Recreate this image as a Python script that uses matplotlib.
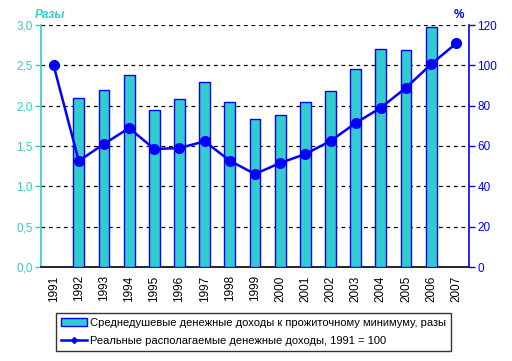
import matplotlib
matplotlib.use("Agg")
import matplotlib.pyplot as plt
import numpy as np

years = [str(y) for y in range(1991, 2008)]
ratio = [np.nan, 2.1, 2.2, 2.38, 1.95, 2.08, 2.29, 2.04, 1.83, 1.88, 2.04, 2.18, 2.45, 2.7, 2.69, 2.97, np.nan]
real_income = [100, 52.6, 61, 68.9, 58.5, 59, 62.3, 52.7, 46.1, 51.6, 56, 62.5, 71.4, 79, 88.9, 100.6, 111]
left_ticks = ["0,0", "0,5", "1,0", "1,5", "2,0", "2,5", "3,0"]
right_ticks = ["0", "20", "40", "60", "80", "100", "120"]

TEAL = "#33CCCC"
BLUE = "#0000FF"
plt.rcParams['font.family'] = ['Liberation Sans', 'DejaVu Sans']
fs = 8.5

fig = plt.figure(figsize=(5.12, 3.61), dpi=100)
ax = fig.add_axes([41/512, 1-267/361, 428/512, 242/361])
x = np.arange(len(years))
bars = ax.bar(x, ratio, width=0.43, color=TEAL, edgecolor=BLUE, linewidth=1.0, zorder=3,
              label="Среднедушевые денежные доходы к прожиточному минимуму, разы")
ax.set_xlim(-0.5, len(years)-0.5)
ax.set_ylim(0, 3.0)
ax.set_yticks(np.arange(0, 3.01, 0.5))
ax.set_yticklabels(left_ticks, color=TEAL, fontsize=fs)
ax.set_xticks(x)
ax.set_xticklabels(years, rotation=90, fontsize=fs)
ax.tick_params(axis='x', length=0, pad=6)
ax.tick_params(axis='y', colors=TEAL, length=4, width=1, pad=2)
for yv in np.arange(0.5, 3.01, 0.5):
    ax.axhline(yv, color='black', linestyle=(0, (3, 3)), linewidth=0.9, zorder=1)
ax.spines['top'].set_visible(False)
ax.spines['right'].set_visible(False)
ax.spines['left'].set_color(TEAL)
ax.spines['left'].set_linewidth(1.2)
ax.spines['bottom'].set_color('black')
ax.spines['bottom'].set_linewidth(1.2)

ax2 = ax.twinx()
line, = ax2.plot(x, real_income, color=BLUE, linewidth=1.8, marker='o', markersize=7, zorder=4,
                 label="Реальные располагаемые денежные доходы, 1991 = 100")
ax2.set_ylim(0, 120)
ax2.set_yticks(np.arange(0, 121, 20))
ax2.set_yticklabels(right_ticks, color=BLUE, fontsize=fs)
ax2.tick_params(axis='y', colors=BLUE, length=4, width=1, pad=2)
for s in ['top', 'left', 'bottom']:
    ax2.spines[s].set_visible(False)
ax2.spines['right'].set_color(BLUE)
ax2.spines['right'].set_linewidth(1.2)

fig.text(35/512, 1-15/361, "Разы", color=TEAL, fontsize=8.5, fontstyle='italic', fontweight='bold', va='center', ha='left')
fig.text(459/512, 1-15/361, "%", color=BLUE, fontsize=8.5, fontweight='bold', va='center', ha='center')

leg_line = plt.Line2D([], [], color=BLUE, linewidth=1.8, marker='D', markersize=3)
leg = fig.legend([bars, leg_line], [bars.get_label(), line.get_label()], loc='center',
                 bbox_to_anchor=(253.5/512, 1-332/361), ncol=1, fontsize=8, frameon=True,
                 fancybox=False, edgecolor='black', borderpad=0.45, handlelength=2.3,
                 handletextpad=0.3, labelspacing=0.75, borderaxespad=0)
leg.get_frame().set_linewidth(1.0)

fig.savefig("out.png", dpi=100)
